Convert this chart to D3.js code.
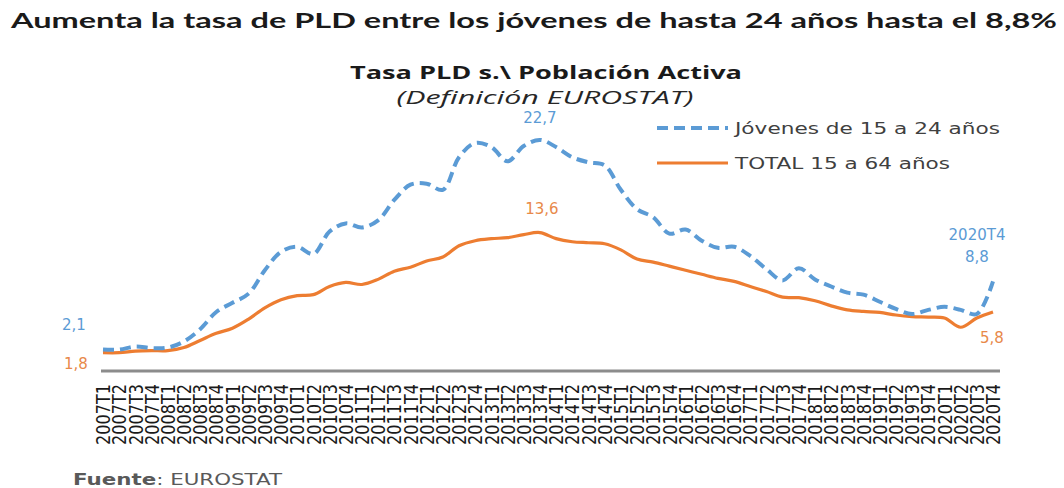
<!DOCTYPE html>
<html><head><meta charset="utf-8">
<script src="https://cdn.jsdelivr.net/npm/d3@7"></script>
<style>body{margin:0;background:#fff}svg{display:block}</style>
</head><body>
<svg id="c" width="1064" height="488"></svg>
<script>
const years = ["2007","2008","2009","2010","2011","2012","2013","2014","2015","2016","2017","2018","2019","2020"];
const quarters = ["T1","T2","T3","T4"];
const categories = [];
years.forEach(y => quarters.forEach(q => categories.push(y + q)));

const jovenes = [2.1,2.1,2.4,2.25,2.3,2.9,4.1,5.8,6.7,7.6,9.9,11.7,12.2,11.5,13.7,14.5,14.1,14.8,16.8,18.3,18.4,17.8,21.0,22.4,22.0,20.6,22.1,22.7,22.0,21.0,20.5,20.2,17.8,15.9,15.1,13.5,13.9,12.8,12.1,12.2,11.3,10.0,8.9,10.1,9.0,8.3,7.7,7.5,6.8,6.1,5.6,6.0,6.3,6.0,5.6,8.8];
const total = [1.8,1.8,1.95,2.0,2.0,2.3,3.0,3.7,4.2,5.1,6.2,7.0,7.4,7.5,8.3,8.7,8.5,9.0,9.8,10.2,10.8,11.2,12.3,12.8,13.0,13.1,13.4,13.6,13.0,12.7,12.6,12.5,11.9,11.0,10.7,10.3,9.9,9.5,9.1,8.8,8.3,7.8,7.25,7.2,6.9,6.4,6.0,5.85,5.75,5.5,5.35,5.3,5.2,4.3,5.2,5.8];
const seriesNames = ["Jóvenes de 15 a 24 años","TOTAL 15 a 64 años"];

const BLUE = "#5b9bd5", ORANGE = "#ed7d31";
const svg = d3.select("#c");
const x = d3.scalePoint().domain(categories).range([103, 993]);
const y = d3.scaleLinear().domain([0, 25]).range([371, 116.5]);

// titles
svg.append("text").attr("x", 534).attr("y", 28).attr("text-anchor","middle")
  .attr("font-family","Lato, 'DejaVu Sans', sans-serif").attr("font-weight","bold").attr("font-size",21)
  .attr("fill","#1a1a1a").attr("textLength",1046).attr("lengthAdjust","spacingAndGlyphs")
  .text("Aumenta la tasa de PLD entre los jóvenes de hasta 24 años hasta el 8,8%");
svg.append("text").attr("x", 546).attr("y", 79).attr("text-anchor","middle")
  .attr("font-family","'Open Sans', 'DejaVu Sans', sans-serif").attr("font-weight","bold").attr("font-size",18)
  .attr("fill","#1a1a1a").attr("textLength",392).attr("lengthAdjust","spacingAndGlyphs")
  .text("Tasa PLD s.\\ Población Activa");
svg.append("text").attr("x", 545).attr("y", 104).attr("text-anchor","middle")
  .attr("font-family","'Open Sans', 'DejaVu Sans', sans-serif").attr("font-style","italic").attr("font-size",18)
  .attr("fill","#262626").attr("textLength",297).attr("lengthAdjust","spacingAndGlyphs")
  .text("(Definición EUROSTAT)");

// axis
const xAxis = d3.axisBottom(x).tickSize(0).tickPadding(0);
const gx = svg.append("g").attr("transform","translate(0,371)").call(xAxis);
gx.select(".domain").remove();
gx.append("line").attr("x1",101).attr("x2",1000).attr("y1",0).attr("y2",0)
  .attr("stroke","#8c8c8c").attr("stroke-width",3);
gx.selectAll(".tick text")
  .attr("font-family","'DejaVu Sans', sans-serif").attr("font-size",19).attr("fill","#1a1a1a")
  .attr("textLength",61).attr("lengthAdjust","spacingAndGlyphs")
  .attr("text-anchor","end").attr("transform","rotate(-90)")
  .attr("x",-13).attr("y",0).attr("dy","0.35em");

// lines
const line = d3.line().x((d,i) => x(categories[i])).y(d => y(d)).curve(d3.curveCatmullRom.alpha(0.5));
svg.append("path").datum(total).attr("d", line).attr("fill","none")
  .attr("stroke",ORANGE).attr("stroke-width",3.2).attr("stroke-linejoin","round");
svg.append("path").datum(jovenes).attr("d", line).attr("fill","none")
  .attr("stroke",BLUE).attr("stroke-width",4).attr("stroke-dasharray","11,6");

// legend
const lg = svg.append("g");
[[BLUE,"11,6",4,128],[ORANGE,null,3.2,163]].forEach((s,k) => {
  lg.append("line").attr("x1",657).attr("x2",728).attr("y1",s[3]).attr("y2",s[3])
    .attr("stroke",s[0]).attr("stroke-width",s[2]).attr("stroke-dasharray",s[1]);
  lg.append("text").attr("x",735).attr("y",s[3]).attr("dy","0.36em")
    .attr("font-family","'DejaVu Sans', sans-serif").attr("font-size",16.5).attr("fill","#404040")
    .attr("textLength", k===0 ? 265 : 215).attr("lengthAdjust","spacingAndGlyphs")
    .text(seriesNames[k]);
});

// data labels
const lbl = (t, xv, yv, col) => svg.append("text").attr("x",xv).attr("y",yv).attr("text-anchor","middle")
  .attr("font-family","'DejaVu Sans', sans-serif").attr("font-size",15).attr("fill",col).text(t);
const fmt = v => d3.format(".1f")(v).replace(".", ",");
const last = categories.length - 1;
const pk = 27;
lbl(fmt(jovenes[0]), 74, 330, BLUE);
lbl(fmt(total[0]), 76, 369, "#e8894a");
lbl(fmt(jovenes[pk]), x(categories[pk]), y(jovenes[pk]) - 17, BLUE);
lbl(fmt(total[pk]), x(categories[pk]) + 2, y(total[pk]) - 19, "#e8894a");
lbl(categories[last], x(categories[last]) - 16, 240, BLUE);
lbl(fmt(jovenes[last]), x(categories[last]) - 16, 262, BLUE);
lbl(fmt(total[last]), x(categories[last]) - 1, 343, "#e8894a");

// source
const src = svg.append("text").attr("x",73).attr("y",485)
  .attr("font-family","'DejaVu Sans', sans-serif").attr("font-size",15).attr("fill","#595959")
  .attr("textLength",209).attr("lengthAdjust","spacingAndGlyphs");
src.append("tspan").attr("font-weight","bold").text("Fuente");
src.append("tspan").text(": EUROSTAT");
</script>
</body></html>
